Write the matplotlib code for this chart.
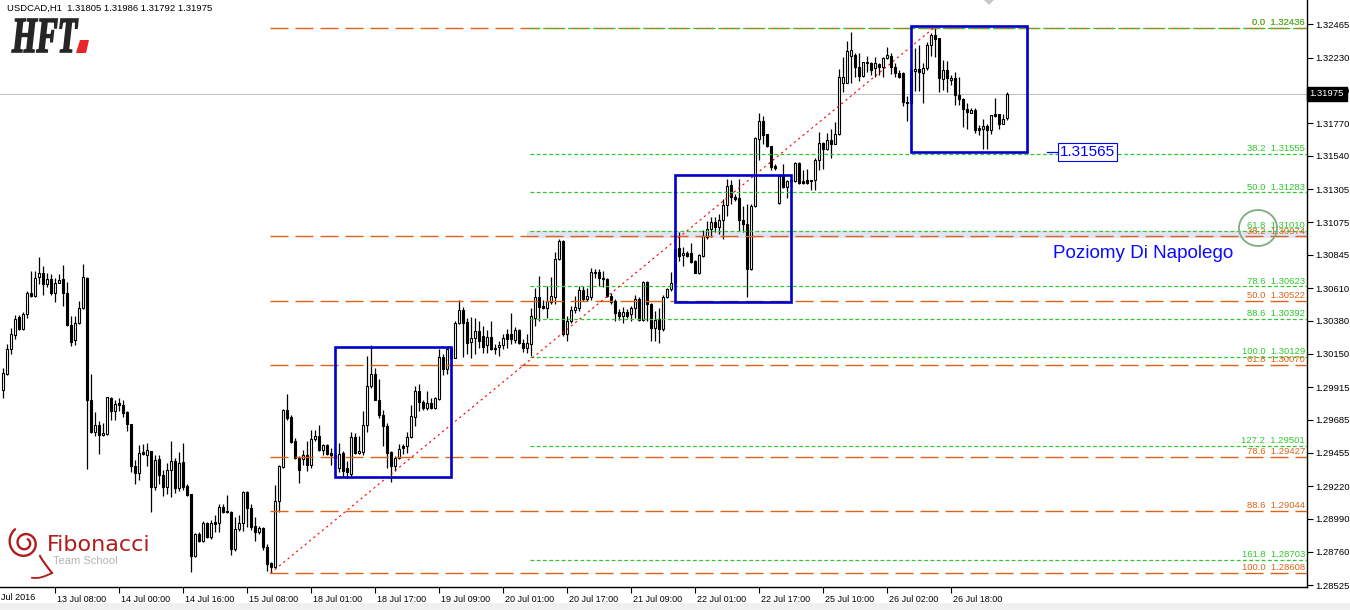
import numpy as np
import matplotlib
matplotlib.use("Agg")
import matplotlib.pyplot as plt
from matplotlib.patches import Rectangle, Polygon, Ellipse, PathPatch
from matplotlib.textpath import TextPath
from matplotlib.font_manager import FontProperties
import matplotlib.transforms as mtransforms

# ---------------- data ----------------
symbol = "USDCAD"
timeframe = "H1"

opens = [
1.29892,1.30004,1.30181,1.30282,1.30409,1.30322,1.30432,1.30580,1.30557,1.30688,
1.30717,1.30639,1.30674,1.30580,1.30646,1.30674,1.30580,1.30352,1.30244,1.30364,
1.30470,1.30681,1.29828,1.29600,1.29647,1.29582,1.29586,1.29840,1.29751,1.29805,
1.29788,1.29741,1.29659,1.29358,1.29311,1.29457,1.29440,1.29469,1.29217,1.29412,
1.29300,1.29217,1.29330,1.29394,1.29210,1.29386,1.29224,1.29166,1.28731,1.28881,
1.28834,1.28959,1.28865,1.28966,1.28959,1.29076,1.29048,1.29041,1.28778,1.28919,
1.28959,1.29177,1.29069,1.28942,1.28895,1.28928,1.28794,1.28677,1.28653,1.29116,
1.29351,1.29758,1.29704,1.29534,1.29417,1.29412,1.29436,1.29370,1.29553,1.29570,
1.29471,1.29511,1.29452,1.29436,1.29346,1.29452,1.29346,1.29304,1.29562,1.29452,
1.29459,1.29647,1.29926,1.30004,1.29828,1.29722,1.29640,1.29456,1.29358,1.29417,
1.29499,1.29499,1.29562,1.29706,1.29887,1.29809,1.29769,1.29804,1.29769,1.29835,
1.30126,1.30046,1.30180,1.30122,1.30364,1.30455,1.30373,1.30234,1.30258,1.30310,
1.30274,1.30211,1.30270,1.30192,1.30199,1.30211,1.30291,1.30291,1.30246,1.30317,
1.30227,1.30192,1.30220,1.30404,1.30549,1.30486,1.30474,1.30516,1.30549,1.30815,
1.30939,1.30286,1.30380,1.30455,1.30474,1.30596,1.30537,1.30545,1.30725,1.30725,
1.30685,1.30674,1.30556,1.30521,1.30446,1.30415,1.30446,1.30427,1.30469,1.30533,
1.30387,1.30655,1.30498,1.30333,1.30392,1.30321,1.30545,1.30603,1.30650,1.30892,
1.30843,1.30857,1.30857,1.30803,1.30716,1.30838,1.30972,1.31026,1.31078,1.31038,
1.31090,1.31198,1.31332,1.31254,1.31245,1.31090,1.31062,1.30744,1.31186,1.31661,
1.31783,1.31696,1.31611,1.31466,1.31207,1.31409,1.31320,1.31372,1.31360,1.31492,
1.31360,1.31367,1.31372,1.31367,1.31508,1.31630,1.31590,1.31649,1.31626,1.31691,
1.32049,1.32049,1.32241,1.32248,1.32166,1.32100,1.32190,1.32190,1.32154,1.32185,
1.32166,1.32225,1.32241,1.32161,1.32124,1.32124,1.31919,1.31908,1.32138,1.32147,
1.32124,1.32154,1.32319,1.32389,1.32366,1.32077,1.32143,1.32072,1.32084,1.31966,
1.31936,1.31872,1.31844,1.31865,1.31736,1.31731,1.31748,1.31720,1.31832,1.31832,
1.31767,1.31805]

highs = [
1.30052,1.30216,1.30329,1.30423,1.30423,1.30444,1.30592,1.30733,1.30733,1.30827,
1.30768,1.30714,1.30710,1.30681,1.30710,1.30775,1.30651,1.30416,1.30416,1.30522,
1.30780,1.30686,1.30004,1.29741,1.29676,1.29664,1.29845,1.29849,1.29828,1.29840,
1.29828,1.29746,1.29659,1.29405,1.29511,1.29516,1.29523,1.29469,1.29440,1.29436,
1.29335,1.29382,1.29539,1.29417,1.29457,1.29523,1.29234,1.29166,1.28888,1.28900,
1.28975,1.28970,1.28982,1.29018,1.29095,1.29095,1.29158,1.29046,1.29006,1.29018,
1.29187,1.29187,1.29093,1.29006,1.28942,1.28935,1.28811,1.28689,1.29229,1.29370,
1.29765,1.29864,1.29718,1.29558,1.29429,1.29476,1.29534,1.29617,1.29617,1.29647,
1.29516,1.29516,1.29488,1.29464,1.29522,1.29464,1.29393,1.29600,1.29593,1.29574,
1.29745,1.30133,1.30211,1.30051,1.29969,1.29757,1.29663,1.29468,1.29428,1.29515,
1.29515,1.29600,1.29793,1.29922,1.29938,1.29828,1.29887,1.29840,1.29847,1.30180,
1.30150,1.30197,1.30192,1.30380,1.30526,1.30479,1.30404,1.30408,1.30404,1.30380,
1.30345,1.30314,1.30380,1.30215,1.30239,1.30291,1.30321,1.30439,1.30338,1.30321,
1.30251,1.30286,1.30469,1.30615,1.30697,1.30526,1.30627,1.30690,1.30862,1.30956,
1.30949,1.30415,1.30486,1.30556,1.30627,1.30627,1.30615,1.30749,1.30744,1.30744,
1.30733,1.30681,1.30573,1.30533,1.30462,1.30479,1.30462,1.30486,1.30563,1.30545,
1.30662,1.30662,1.30509,1.30450,1.30469,1.30563,1.30615,1.30721,1.30968,1.31003,
1.30897,1.30874,1.30925,1.30808,1.30850,1.31019,1.31085,1.31113,1.31109,1.31132,
1.31238,1.31379,1.31372,1.31273,1.31379,1.31191,1.31203,1.31203,1.31673,1.31842,
1.31818,1.31696,1.31611,1.31485,1.31409,1.31485,1.31372,1.31379,1.31496,1.31496,
1.31438,1.31449,1.31372,1.31527,1.31708,1.31637,1.31701,1.31731,1.31778,1.32147,
1.32237,1.32349,1.32413,1.32260,1.32260,1.32201,1.32241,1.32201,1.32237,1.32190,
1.32237,1.32302,1.32260,1.32190,1.32143,1.32131,1.31959,1.32166,1.32295,1.32319,
1.32190,1.32342,1.32406,1.32436,1.32366,1.32213,1.32208,1.32107,1.32131,1.32091,
1.31943,1.31908,1.31879,1.31879,1.31755,1.31802,1.31767,1.31825,1.31950,1.31837,
1.31837,1.31986]

lows = [
1.29840,1.30000,1.30145,1.30251,1.30317,1.30315,1.30404,1.30545,1.30545,1.30639,
1.30561,1.30620,1.30561,1.30510,1.30644,1.30486,1.30345,1.30204,1.30209,1.30357,
1.30463,1.29342,1.29593,1.29570,1.29448,1.29570,1.29582,1.29687,1.29687,1.29746,
1.29704,1.29605,1.29316,1.29236,1.29260,1.29436,1.29358,1.29036,1.29194,1.29236,
1.29147,1.29163,1.29140,1.29170,1.29187,1.29189,1.29151,1.28618,1.28724,1.28830,
1.28830,1.28858,1.28848,1.28895,1.28900,1.29029,1.29029,1.28736,1.28764,1.28905,
1.28905,1.28935,1.28912,1.28834,1.28881,1.28771,1.28625,1.28608,1.28646,1.29036,
1.29346,1.29687,1.29523,1.29410,1.29241,1.29370,1.29323,1.29346,1.29534,1.29464,
1.29440,1.29440,1.29370,1.29370,1.29318,1.29287,1.29275,1.29294,1.29447,1.29447,
1.29440,1.29600,1.29910,1.29823,1.29699,1.29503,1.29346,1.29252,1.29323,1.29412,
1.29445,1.29452,1.29558,1.29644,1.29745,1.29757,1.29757,1.29762,1.29764,1.29828,
1.29999,1.30004,1.30110,1.30117,1.30361,1.30126,1.30145,1.30117,1.30145,1.30187,
1.30157,1.30157,1.30173,1.30145,1.30133,1.30180,1.30192,1.30215,1.30227,1.30215,
1.30164,1.30157,1.30133,1.30345,1.30380,1.30462,1.30404,1.30498,1.30498,1.30808,
1.30274,1.30239,1.30368,1.30439,1.30450,1.30521,1.30521,1.30526,1.30685,1.30627,
1.30620,1.30549,1.30502,1.30380,1.30385,1.30368,1.30404,1.30380,1.30399,1.30380,
1.30380,1.30380,1.30239,1.30239,1.30227,1.30310,1.30540,1.30592,1.30639,1.30803,
1.30768,1.30827,1.30784,1.30714,1.30709,1.30827,1.30956,1.30968,1.31003,1.30991,
1.30956,1.31120,1.31203,1.31226,1.31015,1.31003,1.30545,1.30737,1.31179,1.31508,
1.31626,1.31602,1.31442,1.31442,1.31203,1.31315,1.31245,1.31344,1.31355,1.31344,
1.31344,1.31344,1.31301,1.31301,1.31438,1.31449,1.31579,1.31527,1.31621,1.31684,
1.31990,1.32049,1.32049,1.32095,1.32065,1.32095,1.32131,1.32107,1.32095,1.32107,
1.32095,1.32218,1.32114,1.32091,1.32084,1.31889,1.31785,1.31896,1.31997,1.31997,
1.31908,1.32143,1.32241,1.32237,1.31990,1.32001,1.31990,1.32037,1.31896,1.31896,
1.31743,1.31731,1.31842,1.31701,1.31684,1.31590,1.31590,1.31696,1.31814,1.31731,
1.31762,1.31792]

closes = [
1.30012,1.30181,1.30286,1.30392,1.30322,1.30432,1.30580,1.30552,1.30681,1.30717,
1.30639,1.30674,1.30580,1.30646,1.30667,1.30580,1.30352,1.30235,1.30364,1.30470,
1.30686,1.29828,1.29600,1.29647,1.29582,1.29593,1.29845,1.29746,1.29800,1.29788,
1.29734,1.29659,1.29358,1.29311,1.29452,1.29448,1.29476,1.29217,1.29405,1.29295,
1.29217,1.29335,1.29394,1.29206,1.29382,1.29217,1.29158,1.28731,1.28881,1.28834,
1.28959,1.28865,1.28959,1.28952,1.29076,1.29041,1.29036,1.28778,1.28919,1.28959,
1.29177,1.29064,1.28935,1.28895,1.28928,1.28794,1.28670,1.28653,1.29116,1.29358,
1.29758,1.29699,1.29530,1.29417,1.29335,1.29436,1.29370,1.29553,1.29570,1.29476,
1.29511,1.29445,1.29436,1.29417,1.29447,1.29323,1.29318,1.29562,1.29452,1.29464,
1.29652,1.29926,1.30004,1.29828,1.29722,1.29640,1.29452,1.29358,1.29417,1.29482,
1.29487,1.29562,1.29710,1.29887,1.29809,1.29769,1.29804,1.29769,1.29840,1.30126,
1.30046,1.30180,1.30122,1.30368,1.30455,1.30368,1.30227,1.30263,1.30310,1.30239,
1.30197,1.30270,1.30180,1.30180,1.30211,1.30258,1.30251,1.30251,1.30317,1.30227,
1.30192,1.30227,1.30415,1.30549,1.30479,1.30469,1.30521,1.30556,1.30815,1.30939,
1.30286,1.30380,1.30455,1.30479,1.30596,1.30533,1.30552,1.30721,1.30714,1.30681,
1.30674,1.30556,1.30516,1.30439,1.30415,1.30446,1.30415,1.30469,1.30533,1.30387,
1.30655,1.30498,1.30333,1.30387,1.30321,1.30549,1.30603,1.30650,1.30885,1.30834,
1.30857,1.30838,1.30791,1.30716,1.30843,1.30979,1.31026,1.31078,1.31038,1.31090,
1.31198,1.31325,1.31254,1.31238,1.31090,1.31062,1.30744,1.31191,1.31668,1.31783,
1.31689,1.31607,1.31461,1.31456,1.31402,1.31320,1.31360,1.31360,1.31492,1.31351,
1.31351,1.31351,1.31362,1.31513,1.31630,1.31590,1.31649,1.31626,1.31696,1.32091,
1.32091,1.32279,1.32284,1.32166,1.32100,1.32197,1.32197,1.32143,1.32190,1.32161,
1.32225,1.32248,1.32161,1.32119,1.32091,1.31919,1.31908,1.32143,1.32147,1.32131,
1.32154,1.32319,1.32389,1.32359,1.32084,1.32143,1.32084,1.32084,1.31966,1.31936,
1.31872,1.31849,1.31865,1.31724,1.31724,1.31748,1.31720,1.31825,1.31818,1.31767,
1.31802,1.31975]

first_time_label = "Jul 2016"
time_tick_index = [13, 29, 45, 61, 77, 93, 109, 125, 141, 157, 173, 189, 205, 221, 237]
time_tick_labels = ["13 Jul 08:00", "14 Jul 00:00", "14 Jul 16:00", "15 Jul 08:00",
                    "18 Jul 01:00", "18 Jul 17:00", "19 Jul 09:00", "20 Jul 01:00",
                    "20 Jul 17:00", "21 Jul 09:00", "22 Jul 01:00", "22 Jul 17:00",
                    "25 Jul 10:00", "26 Jul 02:00", "26 Jul 18:00"]
price_ticks = [1.32465, 1.32230, 1.32000, 1.31770, 1.31540, 1.31305, 1.31075, 1.30845,
               1.30610, 1.30380, 1.30150, 1.29915, 1.29685, 1.29455, 1.29220, 1.28990,
               1.28760, 1.28525]

fib_orange_levels = [0.0, 38.2, 50.0, 61.8, 78.6, 88.6, 100.0]
fib_orange_prices = [1.32436, 1.30974, 1.30522, 1.30070, 1.29427, 1.29044, 1.28608]
fib_orange_start = 66.75
fib_green_levels = [0.0, 38.2, 50.0, 61.8, 78.6, 88.6, 100.0, 127.2, 161.8]
fib_green_prices = [1.32436, 1.31555, 1.31283, 1.31010, 1.30623, 1.30392, 1.30129, 1.29501, 1.28703]
fib_green_start = 131.75

trend_index = [66.8, 232.5]
trend_price = [1.28608, 1.32436]

box_start = [82.9, 167.9, 226.9]
box_end = [111.9, 196.9, 255.9]
box_low = [1.29287, 1.30516, 1.31565]
box_high = [1.30197, 1.31409, 1.32453]

zone_start = 131.0
zone_low = 1.30960
zone_high = 1.31012
zone_text = "Poziomy Di Napolego"
zone_text_pos = (262.4, 1.30824)

marker_price = 1.31565
marker_index = (260.9, 263.7)

# ---------------- figure ----------------
W, H = 1350, 610
fig = plt.figure(figsize=(W / 100, H / 100), dpi=100)
fig.patch.set_facecolor("white")
FONT = "Liberation Sans"

ax = fig.add_axes([0, 23 / H, 1307 / W, 587 / H])
xmin, xmax = -0.825, 325.925
ax.set_xlim(xmin, xmax)
ax.set_ylim(1.28511, 1.32635)
ax.set_facecolor("white")
for s in ["top", "left"]:
    ax.spines[s].set_visible(False)
for s in ["right", "bottom"]:
    ax.spines[s].set_linewidth(1.0)
    ax.spines[s].set_color("black")

o = np.array(opens); h = np.array(highs); l = np.array(lows); c = np.array(closes)
idx = np.arange(len(o))

# background zone
ax.add_patch(Rectangle((zone_start, zone_low), xmax - zone_start, zone_high - zone_low,
                       facecolor="#e4e4f6", edgecolor="none", zorder=0.5))
# current price line
ax.axhline(c[-1], color="#c0c0c0", lw=0.7, zorder=1, antialiased=False)

# candles
ax.vlines(idx, l, h, color="black", lw=0.9, zorder=3)
up = c >= o
bb = np.minimum(o, c)
bh = np.abs(c - o)
ax.bar(idx[up], bh[up], bottom=bb[up], width=0.55, facecolor="white",
       edgecolor="black", lw=0.8, zorder=4)
ax.bar(idx[~up], bh[~up], bottom=bb[~up], width=0.55, facecolor="black",
       edgecolor="black", lw=0.8, zorder=4)

# fibonacci levels
ORANGE = "#d9641a"
GREEN = "#2ec82e"
ax.hlines(fib_orange_prices, fib_orange_start, xmax, colors=ORANGE,
          linestyles=[(0, (13, 5))], lw=1.0, zorder=5)
ax.hlines(fib_green_prices, fib_green_start, xmax, colors=GREEN,
          linestyles=[(0, (3, 2))], lw=0.9, zorder=5.1)
lab_x = xmax - 0.5
for lv, p in zip(fib_orange_levels, fib_orange_prices):
    ax.annotate(f"{lv:.1f}  {p:.5f}", (lab_x, p), xytext=(0, 0.6), textcoords="offset points",
                ha="right", va="bottom", fontsize=6.8, color=ORANGE, family=FONT, zorder=6)
for lv, p in zip(fib_green_levels, fib_green_prices):
    ax.annotate(f"{lv:.1f}  {p:.5f}", (lab_x, p), xytext=(0, 0.6), textcoords="offset points",
                ha="right", va="bottom", fontsize=6.8, color=GREEN, family=FONT, zorder=6.1)

# trend line
ax.plot(trend_index, trend_price, color="red", lw=0.8, ls=(0, (2, 3)), zorder=6.5)

# boxes
BLUE = "#0000c8"
for s0, s1, lo, hi in zip(box_start, box_end, box_low, box_high):
    ax.add_patch(Rectangle((s0, lo), s1 - s0, hi - lo, fill=False, edgecolor=BLUE,
                           lw=1.9, zorder=7))

# zone text
ax.text(zone_text_pos[0], zone_text_pos[1], zone_text, color="#0a0aff", fontsize=13.6,
        family=FONT, va="baseline", ha="left", zorder=8)

# price marker
ax.plot(list(marker_index), [marker_price, marker_price], color="#0000ff", lw=0.9, zorder=8)
ax.text(marker_index[1] + 0.45, marker_price, f"{marker_price:.5f}", color="#0000ff",
        fontsize=11, family=FONT, va="center", ha="left", zorder=8,
        bbox=dict(boxstyle="square,pad=0.12", facecolor="white", edgecolor="#0000ff", lw=0.8))

# axes ticks
ax.yaxis.tick_right()
ax.set_yticks(price_ticks)
ax.set_yticklabels([f"{p:.5f}" for p in price_ticks], family=FONT)
ax.tick_params(axis="y", direction="out", length=4, width=0.8, pad=2, labelsize=6.8)
ax.set_xticks(time_tick_index)
ax.set_xticklabels(time_tick_labels, family=FONT)
ax.tick_params(axis="x", direction="out", length=4, width=0.8, pad=2, labelsize=6.5)
off = mtransforms.ScaledTranslation(1.5 / 100, 0, fig.dpi_scale_trans)
for lab in ax.get_xticklabels():
    lab.set_horizontalalignment("left")
    lab.set_transform(lab.get_transform() + off)

# current price label on axis (covers the tick label underneath, as in MT4)
cur = ax.text(1.0, c[-1], f"{c[-1]:.5f}", ha="left", va="center", color="white",
              fontsize=6.8, family=FONT, clip_on=False, zorder=20,
              bbox=dict(boxstyle="square,pad=0.3", facecolor="black", edgecolor="black"))
cur.set_transform(ax.get_yaxis_transform() +
                  mtransforms.ScaledTranslation(2.5 / 100, 0, fig.dpi_scale_trans))

# ---------------- overlay (logos, title) ----------------
ov = fig.add_axes([0, 0, 1, 1], zorder=10)
ov.set_xlim(0, W)
ov.set_ylim(H, 0)
ov.axis("off")
ov.patch.set_alpha(0)

ov.text(7, 8, f"{symbol},{timeframe}  {o[-1]:.5f} {h[-1]:.5f} {l[-1]:.5f} {c[-1]:.5f}",
        fontsize=6.8, family=FONT, va="center", ha="left", color="black")
ov.text(1, 597.5, first_time_label, fontsize=6.5, family=FONT, va="center", ha="left")

# HFT logo
fp = FontProperties(family="Liberation Serif", weight="bold", style="italic")
tp = TextPath((0, 0), "HFT", size=48, prop=fp)
ext = tp.get_extents()
sx = 66 / ext.width
sy = 33 / ext.height
tr = mtransforms.Affine2D().translate(-ext.x0, -ext.y0).scale(sx, -sy).translate(12, 52) + ov.transData
ov.add_patch(PathPatch(tp, facecolor="#262626", edgecolor="#262626", lw=1.2, transform=tr))
ov.add_patch(Polygon([(80, 40), (89, 40), (86, 53), (76, 53)], closed=True,
                     facecolor="#e8262b", edgecolor="none"))

# Fibonacci Team School logo
RED = "#b01c1c"
th = np.linspace(0, 3.6 * np.pi, 400)
r = 17.0 * np.exp(-0.115 * th)
ov.plot(25 + r * np.cos(th + 2.2), 543 - r * np.sin(th + 2.2), color=RED, lw=1.7,
        solid_capstyle="round")
tail_t = np.linspace(0, 1, 30)
ov.plot(40 + 12 * tail_t, 556 + 17 * tail_t ** 0.9, color=RED, lw=1.5)
ov.plot(52 - 20 * tail_t, 573 + 5 * np.sin(np.pi * tail_t * 0.6), color=RED, lw=1.3)
ov.text(47, 551, "Fibonacci", fontsize=16, family="DejaVu Sans", color=RED,
        va="baseline", ha="left")
ov.text(53, 563.5, "Team School", fontsize=8, family=FONT, color="#b4b4b4",
        va="baseline", ha="left")

# circle highlight
ov.add_patch(Ellipse((1258, 228), 38, 36, fill=False, edgecolor="#80aa80", lw=1.3))

# small shift marker at top
ov.add_patch(Polygon([(984, 0), (994, 0), (989, 5)], closed=True, facecolor="#c8c8c8",
                     edgecolor="none"))
# bottom gray strip
ov.add_patch(Rectangle((0, 603), W, 7, facecolor="#f0f0f0", edgecolor="none"))

fig.savefig("out.png", dpi=100)
